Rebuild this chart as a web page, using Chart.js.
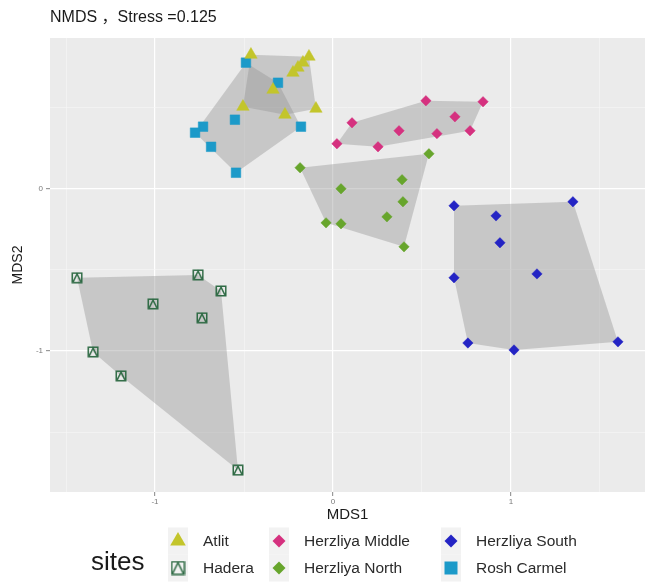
<!DOCTYPE html>
<html>
<head>
<meta charset="utf-8">
<script src="https://cdn.jsdelivr.net/npm/chart.js@4.4.1/dist/chart.umd.min.js"></script>
<style>
  html, body { margin: 0; padding: 0; background: #ffffff; }
  canvas { display: block; }
</style>
</head>
<body>
<canvas id="nmds" width="645" height="582"></canvas>
<script>
// NMDS site scores (MDS1, MDS2) per sampling site
const siteNames = ['Atlit', 'Hadera', 'Herzliya Middle', 'Herzliya North', 'Herzliya South', 'Rosh Carmel'];

const atlitX = [-0.461, -0.135, -0.169, -0.197, -0.225, -0.337, -0.506, -0.270, -0.096];
const atlitY = [0.827, 0.815, 0.778, 0.747, 0.716, 0.611, 0.506, 0.457, 0.494];

const haderaX = [-1.438, -0.758, -0.629, -1.011, -0.736, -1.348, -1.191, -0.534];
const haderaY = [-0.549, -0.531, -0.630, -0.710, -0.796, -1.006, -1.154, -1.735];

const middleX = [0.522, 0.843, 0.685, 0.107, 0.371, 0.770, 0.584, 0.022, 0.253];
const middleY = [0.543, 0.537, 0.444, 0.407, 0.358, 0.358, 0.340, 0.278, 0.259];

const northX = [0.539, 0.388, 0.045, 0.393, 0.303, -0.039, 0.045, 0.399, -0.185];
const northY = [0.216, 0.056, 0.000, -0.080, -0.173, -0.210, -0.216, -0.358, 0.130];

const southX = [0.680, 1.348, 0.916, 0.938, 0.680, 1.146, 0.758, 1.017, 1.601];
const southY = [-0.105, -0.080, -0.167, -0.333, -0.549, -0.525, -0.951, -0.994, -0.944];

const roshX = [-0.489, -0.309, -0.551, -0.730, -0.775, -0.685, -0.180, -0.545];
const roshY = [0.778, 0.654, 0.426, 0.383, 0.346, 0.259, 0.383, 0.099];

// axis breaks: labelled majors and the half-step minors between them
const xTickLabels = [-1, 0, 1];
const yTickLabels = [-1, 0];
const xBreaks = [-1.5, -1, -0.5, 0, 0.5, 1, 1.5];
const yBreaks = [-1.5, -1, -0.5, 0, 0.5];

const FONT = "'Liberation Sans', Arial, 'Noto Sans CJK SC', sans-serif";

function pairs(xs, ys) { return xs.map((x, i) => ({ x: x, y: ys[i] })); }

// open square with a triangle inside (ggplot shape 14)
function squareTriangle(color, s) {
  const c = document.createElement('canvas');
  c.width = s; c.height = s;
  const g = c.getContext('2d');
  g.strokeStyle = color;
  g.lineWidth = 1.5;
  g.strokeRect(1.25, 1.25, s - 2.5, s - 2.5);
  g.beginPath();
  g.moveTo(2.2, s - 2.2);
  g.lineTo(s / 2, 2.2);
  g.lineTo(s - 2.2, s - 2.2);
  g.stroke();
  return c;
}

const HADERA_GREEN = '#2F6B45';
const styles = [
  { color: '#C3C52B', point: 'triangle', radius: 7.2 },
  { color: HADERA_GREEN, point: squareTriangle(HADERA_GREEN, 12), radius: 6 },
  { color: '#D5317F', point: 'rectRot', radius: 5.2 },
  { color: '#67A52C', point: 'rectRot', radius: 5.2 },
  { color: '#2424C4', point: 'rectRot', radius: 5.2 },
  { color: '#1C9AC9', point: 'rect', radius: 6.8 }
];
const seriesData = [
  pairs(atlitX, atlitY), pairs(haderaX, haderaY), pairs(middleX, middleY),
  pairs(northX, northY), pairs(southX, southY), pairs(roshX, roshY)
];

const datasets = siteNames.map((name, i) => ({
  label: name,
  data: seriesData[i],
  pointStyle: styles[i].point,
  pointRadius: styles[i].radius,
  pointBackgroundColor: styles[i].color,
  pointBorderColor: styles[i].color,
  pointBorderWidth: 0.5
}));

// convex hull (monotone chain) in pixel space
function hull(pts) {
  const p = pts.slice().sort((a, b) => a.x - b.x || a.y - b.y);
  const cross = (o, a, b) => (a.x - o.x) * (b.y - o.y) - (a.y - o.y) * (b.x - o.x);
  const lower = [], upper = [];
  for (const q of p) {
    while (lower.length >= 2 && cross(lower[lower.length - 2], lower[lower.length - 1], q) <= 0) lower.pop();
    lower.push(q);
  }
  for (let i = p.length - 1; i >= 0; i--) {
    const q = p[i];
    while (upper.length >= 2 && cross(upper[upper.length - 2], upper[upper.length - 1], q) <= 0) upper.pop();
    upper.push(q);
  }
  upper.pop(); lower.pop();
  return lower.concat(upper);
}

const panelPlugin = {
  id: 'panel',
  beforeDraw(chart) {
    const { ctx, chartArea: a } = chart;
    ctx.save();
    ctx.fillStyle = '#EBEBEB';
    ctx.fillRect(a.left, a.top, a.right - a.left, a.bottom - a.top);
    ctx.restore();
  },
  beforeDatasetsDraw(chart) {
    const { ctx, scales } = chart;
    ctx.save();
    ctx.fillStyle = 'rgba(150,150,150,0.42)';
    chart.data.datasets.forEach(ds => {
      const px = ds.data.map(d => ({ x: scales.x.getPixelForValue(d.x), y: scales.y.getPixelForValue(d.y) }));
      const h = hull(px);
      ctx.beginPath();
      h.forEach((q, k) => k ? ctx.lineTo(q.x, q.y) : ctx.moveTo(q.x, q.y));
      ctx.closePath();
      ctx.fill();
    });
    ctx.restore();
  },
  afterDraw(chart) {
    const ctx = chart.ctx;
    ctx.save();
    // plot title
    ctx.fillStyle = '#1a1a1a';
    ctx.font = '16px ' + FONT;
    ctx.textBaseline = 'middle';
    ctx.textAlign = 'left';
    ctx.fillText('NMDS \uFF0CStress =0.125', 50, 18);

    // legend
    ctx.font = '26px ' + FONT;
    ctx.fillStyle = '#1a1a1a';
    ctx.fillText('sites', 91, 563);
    const colX = [178, 279, 451];
    const rowY = [541, 568];
    chart.data.datasets.forEach((ds, i) => {
      const col = Math.floor(i / 2), row = i % 2;
      const cx = colX[col], cy = rowY[row];
      ctx.fillStyle = '#F2F2F2';
      ctx.fillRect(cx - 10, cy - 13.5, 20, 27);
      drawKey(ctx, styles[i], cx, cy);
      ctx.fillStyle = '#2b2b2b';
      ctx.font = '15.5px ' + FONT;
      ctx.textBaseline = 'middle';
      ctx.fillText(ds.label, cx + 25, cy + 1);
    });
    ctx.restore();
  }
};

function drawKey(ctx, st, x, y) {
  ctx.save();
  ctx.fillStyle = st.color;
  ctx.strokeStyle = st.color;
  if (st.point === 'triangle') {
    const r = 9;
    ctx.beginPath();
    ctx.moveTo(x, y - r);
    ctx.lineTo(x + r * Math.sin(2 * Math.PI / 3), y + r / 2);
    ctx.lineTo(x - r * Math.sin(2 * Math.PI / 3), y + r / 2);
    ctx.closePath();
    ctx.fill();
  } else if (st.point === 'rectRot') {
    const r = 6.5;
    ctx.beginPath();
    ctx.moveTo(x - r, y); ctx.lineTo(x, y - r); ctx.lineTo(x + r, y); ctx.lineTo(x, y + r);
    ctx.closePath();
    ctx.fill();
  } else if (st.point === 'rect') {
    ctx.fillRect(x - 6.5, y - 6.5, 13, 13);
  } else {
    const img = squareTriangle(st.color, 15);
    ctx.drawImage(img, x - 7.5, y - 7.5);
  }
  ctx.restore();
}

const isMajor = (v, list) => list.some(t => Math.abs(t - v) < 1e-9);

new Chart(document.getElementById('nmds'), {
  type: 'scatter',
  data: { datasets: datasets },
  plugins: [panelPlugin],
  options: {
    responsive: false,
    animation: false,
    devicePixelRatio: 1,
    layout: { autoPadding: false, padding: { top: 38, left: 0, right: 0, bottom: 52 } },
    plugins: { legend: { display: false }, tooltip: { enabled: false }, title: { display: false } },
    scales: {
      x: {
        type: 'linear',
        min: -1.59, max: 1.753,
        afterBuildTicks: s => { s.ticks = xBreaks.map(v => ({ value: v })); },
        afterFit: s => { s.height = 38; },
        border: { display: false },
        grid: {
          color: c => isMajor(c.tick.value, xTickLabels) ? '#FFFFFF' : '#F6F6F6',
          lineWidth: c => isMajor(c.tick.value, xTickLabels) ? 1.2 : 0.6,
          tickColor: c => isMajor(c.tick.value, xTickLabels) ? '#9a9a9a' : 'rgba(0,0,0,0)',
          tickLength: 4
        },
        ticks: {
          autoSkip: false, maxRotation: 0, padding: 1,
          color: '#7a7a7a', font: { family: FONT, size: 8 },
          callback: v => isMajor(v, xTickLabels) ? String(v) : ''
        },
        title: { display: true, text: 'MDS1', color: '#1a1a1a', font: { family: FONT, size: 15 }, padding: { top: 0, bottom: 6 } }
      },
      y: {
        type: 'linear',
        min: -1.87, max: 0.93,
        afterBuildTicks: s => { s.ticks = yBreaks.map(v => ({ value: v })); },
        afterFit: s => { s.width = 50; },
        border: { display: false },
        grid: {
          color: c => isMajor(c.tick.value, yTickLabels) ? '#FFFFFF' : '#F6F6F6',
          lineWidth: c => isMajor(c.tick.value, yTickLabels) ? 1.2 : 0.6,
          tickColor: c => isMajor(c.tick.value, yTickLabels) ? '#9a9a9a' : 'rgba(0,0,0,0)',
          tickLength: 4
        },
        ticks: {
          autoSkip: false, padding: 3,
          color: '#7a7a7a', font: { family: FONT, size: 8 },
          callback: v => isMajor(v, yTickLabels) ? String(v) : ''
        },
        title: { display: true, text: 'MDS2', color: '#1a1a1a', font: { family: FONT, size: 14 }, padding: { top: 10, bottom: 0 } }
      }
    }
  }
});
</script>
</body>
</html>
